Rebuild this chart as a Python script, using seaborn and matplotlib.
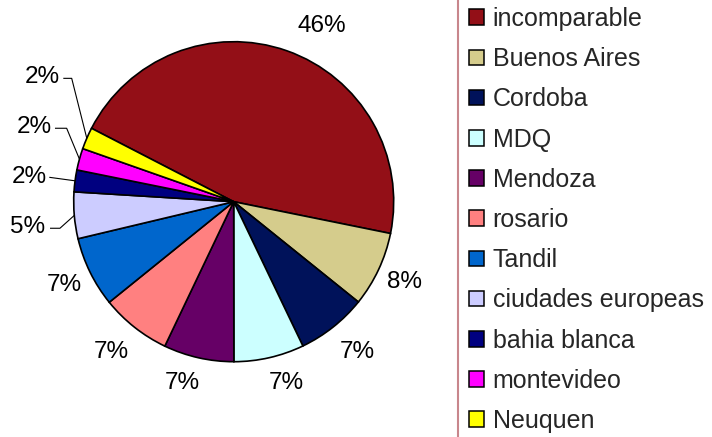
import matplotlib
matplotlib.use("Agg")
import matplotlib.pyplot as plt
import seaborn as sns
import numpy as np
from matplotlib.patches import Patch
from matplotlib.lines import Line2D

# ---- data ----
categories = ["incomparable", "Buenos Aires", "Cordoba", "MDQ", "Mendoza", "rosario",
              "Tandil", "ciudades europeas", "bahia blanca", "montevideo", "Neuquen"]
shares = [45.6, 7.6, 7.1, 7.1, 7.1, 7.1, 7.1, 4.7, 2.2, 2.2, 2.2]
colors = ["#930f17", "#d5cc8c", "#00125a", "#ccffff", "#660066", "#ff8080",
          "#0066cc", "#ccccff", "#000080", "#ff00ff", "#ffff00"]

sns.set_theme(style="white")
plt.rcParams["font.family"] = ["Liberation Sans", "DejaVu Sans"]
palette = sns.color_palette(colors)

W, H = 712, 437
CX, CY, R = 233.7, 201.7, 160.0   # pie centre / radius in pixels (layout)

fig = plt.figure(figsize=(W / 100, H / 100), dpi=100)
fig.patch.set_facecolor("white")
ax = fig.add_axes([0, 0, 1, 1])
wedges, _ = ax.pie(shares, colors=palette, startangle=152.7, counterclock=False,
                   radius=1, center=(0, 0),
                   wedgeprops=dict(edgecolor="black", linewidth=1.2))
ax.set_aspect("auto")
ax.set_xlim(-CX / R, (W - CX) / R)
ax.set_ylim(-(H - CY) / R, CY / R)
ax.axis("off")

FS = 17.5
LFS = 18
pct_labels = [f"{round(v)}%" for v in shares]

# big slices: label along mid-angle (layout distance / angular nudge)
label_dist = [1.23, 1.176, 1.215, 1.18, 1.18, 1.21, 1.18]
label_nudge = [-7.1, 0.0, 1.0, 3.2, -3.2, -1.0, 0.0]
for i in range(7):
    w = wedges[i]
    mid = np.deg2rad((w.theta1 + w.theta2) / 2 + label_nudge[i])
    ax.text(label_dist[i] * np.cos(mid), label_dist[i] * np.sin(mid), pct_labels[i],
            ha="center", va="center", fontsize=FS, color="black")

# small slices: labels with leader lines (layout positions)
small_text = {7: (-1.289, -0.156), 8: (-1.275, 0.156), 9: (-1.249, 0.469), 10: (-1.198, 0.781)}
small_start = {7: (-1.148, -0.166), 8: (-1.1525, 0.1525), 9: (-1.117, 0.459), 10: (-1.065, 0.771)}
small_elbow = {7: (-1.086, -0.166), 8: (-1.1525, 0.1525), 9: (-1.044, 0.459), 10: (-1.0125, 0.771)}
for i in range(7, 11):
    w = wedges[i]
    mid = np.deg2rad((w.theta1 + w.theta2) / 2)
    ex, ey = np.cos(mid), np.sin(mid)
    tx, ty = small_text[i]
    ax.text(tx, ty, pct_labels[i], ha="center", va="center", fontsize=FS, color="black")
    sx, sy = small_start[i]
    bx, by = small_elbow[i]
    ax.plot([sx, bx, ex], [sy, by, ey], color="black", lw=0.8, solid_capstyle="butt")

# legend
handles = [Patch(facecolor=c, edgecolor="black", linewidth=1.1) for c in colors]
fig.legend(handles=handles, labels=categories, loc="upper left",
           bbox_to_anchor=(469 / W, 1 - 7 / H), frameon=False, fontsize=LFS,
           handlelength=0.59, handleheight=0.59, handletextpad=0.36,
           labelspacing=0.648, borderpad=0, borderaxespad=0)
fig.add_artist(Line2D([458 / W, 458 / W], [0, 1], transform=fig.transFigure,
                      color="#c8868c", lw=1.5))

fig.savefig("out.png", dpi=100, facecolor="white")
